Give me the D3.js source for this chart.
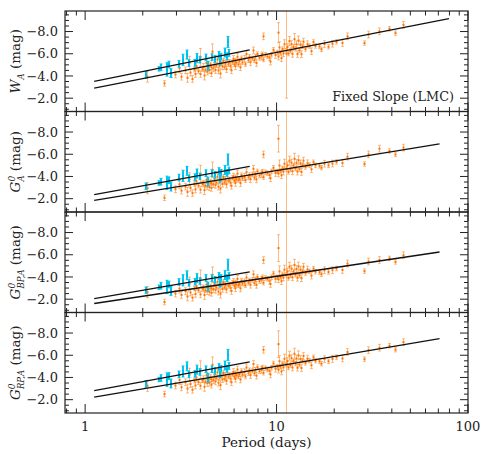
<!DOCTYPE html>
<html>
<head>
<meta charset="utf-8">
<script src="https://cdn.jsdelivr.net/npm/d3@7"></script>
<style>
  body { margin: 0; background: #fff; }
  svg { display: block; font-family: "DejaVu Serif", serif; }
</style>
</head>
<body>
<svg id="chart" width="490" height="454"></svg>
<script>
// ── data ──
const bands = ['W', 'G', 'BP', 'RP'];

// [period (d), W_A, G0_A, G0_BP,A, G0_RP,A, error (one value, or one per band)]
const orangeStars = [
  [2.11,-3.94,-2.94,-2.63,-3.25,.5],[2.57,-3.33,-2.08,-1.74,-2.50,.25],[2.95,-4.13,-2.85,-2.50,-3.27,.3],
  [3.09,-4.70,-3.30,-2.95,-3.78,.4],[3.16,-3.93,-2.73,-2.38,-3.11,.3],[3.31,-4.50,-3.09,-2.73,-3.57,.3],
  [3.39,-3.83,-2.61,-2.25,-3.00,.4],[3.47,-5.17,-3.74,-3.38,-4.23,.6],[3.55,-4.30,-2.97,-2.60,-3.41,.3],
  [3.63,-3.73,-2.50,-2.13,-2.89,.3],[3.72,-4.57,-3.33,-2.95,-3.71,.2],[3.76,-4.18,-2.84,-2.47,-3.28,.3],
  [3.80,-4.90,-3.56,-3.18,-3.99,.3],[3.89,-4.43,-3.18,-2.81,-3.57,.2],[3.98,-4.17,-2.81,-2.43,-3.25,.3],
  [4.00,-5.67,-4.21,-3.83,-4.70,.8],[4.07,-4.60,-3.34,-2.96,-3.73,.2],[4.12,-4.82,-3.35,-2.97,-3.85,.3],
  [4.17,-4.04,-2.77,-2.38,-3.16,.4],[4.22,-4.55,-3.18,-2.80,-3.63,.2],[4.27,-5.17,-3.70,-3.31,-4.19,.3],
  [4.32,-4.39,-3.11,-2.72,-3.50,.3],[4.37,-4.80,-3.42,-3.03,-3.87,.2],[4.42,-4.52,-3.04,-2.65,-3.53,.3],
  [4.47,-5.04,-3.55,-3.16,-4.05,.2],[4.52,-4.25,-2.97,-2.57,-3.36,.3],[4.57,-4.77,-3.38,-2.99,-3.83,.2],
  [4.62,-6.19,-4.60,-4.20,-5.14,.7],[4.68,-4.70,-3.31,-2.91,-3.76,.3],[4.73,-5.02,-3.72,-3.32,-4.12,.2],
  [4.79,-4.54,-3.24,-2.84,-3.64,.3],[4.84,-4.95,-3.45,-3.05,-3.95,.2],[4.90,-5.47,-3.97,-3.56,-4.46,.3],
  [4.96,-4.49,-3.08,-2.68,-3.53,.3],[5.01,-4.91,-3.59,-3.19,-3.99,.2],[5.07,-4.22,-2.91,-2.50,-3.31,.4],
  [5.13,-5.14,-3.72,-3.31,-4.17,.2],[5.19,-4.86,-3.34,-2.93,-3.84,.3],[5.25,-5.37,-3.95,-3.54,-4.40,.2],
  [5.31,-4.79,-3.46,-3.05,-3.87,.2],[5.37,-5.11,-3.68,-3.27,-4.13,.3],[5.43,-4.62,-3.29,-2.88,-3.70,.3],
  [5.50,-5.74,-4.21,-3.79,-4.71,.4],[5.56,-5.06,-3.62,-3.20,-4.08,.2],[5.62,-5.28,-3.74,-3.32,-4.24,.2],
  [5.69,-4.89,-3.45,-3.03,-3.90,.3],[5.75,-4.51,-3.16,-2.74,-3.57,.3],[5.82,-5.23,-3.88,-3.46,-4.28,.2],
  [5.89,-5.54,-3.99,-3.57,-4.50,.3],[5.96,-5.06,-3.61,-3.18,-4.06,.2],[6.03,-4.88,-3.42,-2.99,-3.88,.3],
  [6.10,-5.39,-3.93,-3.51,-4.39,.2],[6.17,-5.21,-3.75,-3.32,-4.21,.2],[6.24,-5.73,-4.26,-3.83,-4.72,.3],
  [6.31,-5.04,-3.68,-3.25,-4.09,.2],[6.38,-5.36,-3.79,-3.36,-4.30,.2],[6.46,-4.78,-3.40,-2.97,-3.82,.3],
  [6.53,-5.59,-4.12,-3.68,-4.58,.2],[6.61,-5.21,-3.83,-3.40,-4.24,.2],[6.76,-5.55,-3.96,-3.52,-4.47,.3],
  [6.84,-5.06,-3.67,-3.24,-4.09,.2],[6.92,-5.98,-4.39,-3.95,-4.90,.3],[7.08,-5.41,-3.92,-3.47,-4.38,.2],
  [7.16,-5.73,-4.13,-3.69,-4.65,.2],[7.24,-5.25,-3.75,-3.30,-4.21,.3],[7.41,-5.58,-4.17,-3.73,-4.59,.2],
  [7.50,-6.30,-4.69,-4.24,-5.21,.3],[7.59,-5.41,-3.90,-3.45,-4.37,.2],[7.76,-5.75,-4.23,-3.78,-4.70,.2],
  [7.85,-5.17,-3.74,-3.29,-4.16,.3],[7.94,-5.98,-4.46,-4.00,-4.93,.2],[8.13,-5.62,-4.09,-3.63,-4.56,.2],
  [8.32,-5.75,-4.21,-3.75,-4.69,.3],[8.41,-5.97,-4.43,-3.97,-4.90,.2],[8.51,-5.48,-3.94,-3.48,-4.42,.2],
  [8.71,-5.92,-4.37,-3.91,-4.84,.2],[8.91,-5.75,-4.30,-3.83,-4.72,.2],[8.45,-7.57,-5.98,-5.52,-6.49,.3],
  [9.12,-5.68,-4.13,-3.66,-4.60,.3],[9.23,-5.30,-3.84,-3.37,-4.27,.3],[9.33,-5.92,-4.46,-3.98,-4.88,.2],
  [9.55,-6.35,-4.78,-4.31,-5.26,.2],[9.77,-5.89,-4.31,-3.83,-4.79,.3],[10.0,-6.12,-4.44,-3.96,-4.97,.2],
  [10.12,-7.90,-7.40,-6.60,-7.00,[.9,1.2,1.2,1.2]],
  [10.23,-5.75,-4.27,-3.79,-4.70,.3],[10.35,-6.57,-4.98,-4.50,-5.46,.5],[10.47,-6.09,-4.50,-4.01,-4.98,.2],
  [10.59,-5.60,-4.11,-3.62,-4.54,.3],[10.72,-6.42,-4.72,-4.24,-5.26,.2],[10.84,-6.04,-4.44,-3.95,-4.92,.3],
  [10.96,-6.86,-5.15,-4.66,-5.69,.4],
  [11.14,-6.00,-4.67,-4.18,-5.16,[4.0,6,6,6]],
  [11.22,-6.29,-4.68,-4.19,-5.17,.2],[11.35,-6.61,-5.00,-4.50,-5.48,.3],[11.48,-6.02,-4.41,-3.91,-4.90,.2],
  [11.61,-7.14,-5.42,-4.93,-5.96,.4],[11.75,-6.26,-4.64,-4.14,-5.12,.2],[11.89,-6.87,-5.25,-4.75,-5.74,.3],
  [12.02,-5.99,-4.47,-3.97,-4.90,.3],[12.16,-6.61,-4.98,-4.48,-5.47,.2],[12.30,-7.32,-5.59,-5.09,-6.13,.5],
  [12.45,-6.44,-4.71,-4.20,-5.25,.2],[12.59,-6.86,-5.22,-4.72,-5.71,.3],[12.74,-5.97,-4.44,-3.93,-4.88,.3],
  [12.88,-7.19,-5.45,-4.94,-5.99,.4],[13.03,-6.31,-4.66,-4.15,-5.16,.2],[13.18,-6.83,-5.18,-4.67,-5.67,.3],
  [13.49,-5.96,-4.41,-3.89,-4.85,.3],[13.65,-6.68,-5.02,-4.51,-5.51,.2],[13.80,-7.09,-5.43,-4.92,-5.93,.3],
  [14.13,-6.43,-4.86,-4.35,-5.31,.2],[14.45,-6.86,-5.19,-4.67,-5.69,.3],[14.79,-6.69,-5.02,-4.50,-5.52,.2],
  [15.14,-6.23,-4.65,-4.12,-5.10,.3],[15.49,-7.06,-5.28,-4.75,-5.82,.2],[15.85,-6.70,-5.00,-4.47,-5.50,.2],
  [16.60,-6.66,-4.96,-4.43,-5.46,.2],[16.98,-6.40,-4.79,-4.25,-5.24,.2],[17.78,-6.87,-5.15,-4.60,-5.65,.3],
  [18.62,-6.63,-5.00,-4.45,-5.46,.2],[19.50,-6.90,-5.16,-4.61,-5.67,.3],[20.42,-7.07,-5.31,-4.76,-5.83,.2],
  [21.88,-6.97,-5.20,-4.63,-5.71,.3],[23.44,-7.57,-5.78,-5.21,-6.30,.3],[28.51,-6.96,-5.12,-4.53,-5.65,.2],
  [29.99,-7.73,-5.99,-5.39,-6.46,.3],[34.20,-8.02,-6.50,-5.53,-6.68,.3],[38.55,-8.25,-6.29,-5.67,-6.86,.2],
  [41.50,-7.86,-5.98,-5.35,-6.50,.2],[45.71,-8.60,-6.60,-5.96,-7.18,.3]
];

const cyanStars = [
  [2.07,-4.10,-3.11,-2.80,-3.42,.3],[2.43,-4.64,-3.41,-3.08,-3.82,.2],[2.48,-4.78,-3.53,-3.21,-3.95,.3],
  [2.69,-4.59,-3.43,-3.10,-3.81,.6],[2.75,-5.03,-3.66,-3.32,-4.13,.3],[2.82,-4.26,-3.09,-2.75,-3.46,.4],
  [3.09,-5.10,-3.90,-3.55,-4.28,.3],[3.24,-5.46,-4.06,-3.70,-4.54,.5],[3.39,-5.93,-4.51,-4.15,-5.00,.4],
  [3.47,-5.17,-3.84,-3.48,-4.28,.3],[3.76,-5.18,-3.94,-3.57,-4.33,.3],[3.85,-5.62,-4.27,-3.89,-4.71,.4],
  [3.98,-5.47,-4.01,-3.63,-4.50,.3],[4.41,-4.92,-3.54,-3.14,-3.98,.4],[4.27,-5.67,-4.30,-3.91,-4.74,.3],
  [4.62,-5.69,-4.30,-3.90,-4.74,.3],[4.79,-5.54,-4.14,-3.74,-4.59,.3],[5.01,-5.91,-4.49,-4.09,-4.94,.3],
  [5.13,-5.74,-4.32,-3.91,-4.77,.3],[5.37,-6.11,-4.58,-4.17,-5.08,.4],[5.56,-7.06,-5.52,-5.10,-6.03,.5],
  [5.50,-5.76,-4.32,-3.90,-4.78,.3],[5.05,-5.31,-3.79,-3.39,-4.29,.3],[5.62,-6.08,-4.54,-4.12,-5.04,.3]
];

// fixed-slope relations per band: [intercept, slope] in mag vs log10(P)
const fitLong = [[-2.74, -3.38], [-1.72, -2.82], [-1.49, -2.57], [-2.10, -2.92]];
const fitShort = [[-3.35, -3.50], [-2.21, -3.15], [-1.91, -2.97], [-2.66, -3.18]];
const fitLongEnd = [79.5, 71, 71, 71];
const fitShortEnd = 7.24;
const fitStart = 1.115;

const xTickLabels = [1, 10, 100];
const yTickLabels = [-8, -6, -4, -2];

// ── layout ──
const left = 65, right = 468, top0 = 11, panelH = 100.5;
const svg = d3.select('#chart');
const x = d3.scaleLog().domain([0.785, 100]).range([left, right]);
const xTicks = x.ticks();
const yTicks = d3.range(-9.5, -0.9, 0.5);

const labelParts = [
  [['W', 'it'], ['A', 'sub'], [' (mag)', '']],
  [['G', 'it'], ['0', 'sup'], ['A', 'sub'], [' (mag)', '']],
  [['G', 'it'], ['0', 'sup'], ['BP,A', 'sub'], [' (mag)', '']],
  [['G', 'it'], ['0', 'sup'], ['RP,A', 'sub'], [' (mag)', '']],
];

bands.forEach((band, i) => {
  const top = top0 + i * panelH, bottom = top + panelH;
  const y = d3.scaleLinear().domain([-0.8, -9.85]).range([bottom, top]);

  svg.append('clipPath').attr('id', 'clip' + i)
    .append('rect').attr('x', left).attr('y', top).attr('width', right - left).attr('height', panelH);
  const plot = svg.append('g').attr('clip-path', `url(#clip${i})`);

  drawStars(plot, orangeStars, i, y, '#ff8f2e', '#ff7400', 1, 0.6);
  drawStars(plot, cyanStars, i, y, '#00c8f0', '#00b8e8', 2, 1);

  // fit lines
  const line = d3.line().x(d => x(d[0])).y(d => y(d[1]));
  const rel = (f, p) => f[0] + f[1] * Math.log10(p);
  plot.append('path')
    .attr('d', line([[fitStart, rel(fitLong[i], fitStart)], [fitLongEnd[i], rel(fitLong[i], fitLongEnd[i])]]))
    .attr('stroke', '#111').attr('stroke-width', 1.3).attr('fill', 'none');
  plot.append('path')
    .attr('d', line([[fitStart, rel(fitShort[i], fitStart)], [fitShortEnd, rel(fitShort[i], fitShortEnd)]]))
    .attr('stroke', '#111').attr('stroke-width', 1.3).attr('fill', 'none');

  // frame
  svg.append('rect').attr('x', left).attr('y', top).attr('width', right - left).attr('height', panelH)
    .attr('fill', 'none').attr('stroke', '#222').attr('stroke-width', 1.2);

  // x ticks (top and bottom, inward)
  const ax = svg.append('g').attr('stroke', '#222').attr('stroke-width', 1);
  xTicks.forEach(t => {
    const len = xTickLabels.includes(t) ? 9 : 4.5;
    ax.append('line').attr('x1', x(t)).attr('x2', x(t)).attr('y1', top).attr('y2', top + len);
    ax.append('line').attr('x1', x(t)).attr('x2', x(t)).attr('y1', bottom).attr('y2', bottom - len);
  });
  // y ticks (left and right, inward)
  yTicks.forEach(t => {
    const len = yTickLabels.includes(t) ? 8 : 4;
    ax.append('line').attr('x1', left).attr('x2', left + len).attr('y1', y(t)).attr('y2', y(t));
    ax.append('line').attr('x1', right).attr('x2', right - len).attr('y1', y(t)).attr('y2', y(t));
  });

  yTickLabels.forEach(t => {
    svg.append('text').attr('x', 58).attr('y', y(t)).attr('dy', '0.36em')
      .attr('text-anchor', 'end').attr('font-size', 13).attr('fill', '#222')
      .text('\u2212' + Math.abs(t).toFixed(1));
  });

  // y label
  const lab = svg.append('text')
    .attr('transform', `translate(20,${(top + bottom) / 2}) rotate(-90)`)
    .attr('text-anchor', 'middle').attr('font-size', 13.5).attr('fill', '#222');
  let shift = 0, supW = 0;
  labelParts[i].forEach(([txt, kind]) => {
    const ts = lab.append('tspan').text(txt);
    if (kind === 'it') ts.attr('font-style', 'italic');
    if (kind === 'sup') {
      ts.attr('font-style', 'italic').attr('font-size', 9).attr('dy', -5);
      shift = -5; supW = 5.7;
    }
    if (kind === 'sub') {
      ts.attr('font-style', 'italic').attr('font-size', 8.5).attr('dy', 4 - shift);
      if (supW) ts.attr('dx', -supW);
      shift = 4;
    }
    if (kind === '') ts.attr('dy', -shift);
  });
});

// x tick labels under the bottom panel
xTickLabels.forEach(t => {
  svg.append('text').attr('x', x(t)).attr('y', 431).attr('text-anchor', 'middle')
    .attr('font-size', 13).attr('fill', '#222').text(t);
});

svg.append('text').attr('x', (left + right) / 2).attr('y', 447).attr('text-anchor', 'middle')
  .attr('font-size', 13.5).attr('fill', '#222').text('Period (days)');

svg.append('text').attr('x', 454).attr('y', 101).attr('text-anchor', 'end')
  .attr('font-size', 12.8).attr('fill', '#222').text('Fixed Slope (LMC)');

function drawStars(g, rows, i, y, barColor, dotColor, width, opacity) {
  const grp = g.append('g');
  rows.forEach(r => {
    // snap to pixel centre so thin bars stay crisp
    const px = Math.round(x(r[0])) + (width % 2 ? 0.5 : 0), m = r[1 + i];
    const e = Array.isArray(r[5]) ? r[5][i] : r[5];
    const y1 = y(m - e), y2 = y(m + e);
    grp.append('line').attr('x1', px).attr('x2', px).attr('y1', y1).attr('y2', y2)
      .attr('stroke', barColor).attr('stroke-width', width).attr('opacity', opacity);
    [y1, y2].forEach(yy => grp.append('line')
      .attr('x1', px - 1.5).attr('x2', px + 1.5).attr('y1', yy).attr('y2', yy)
      .attr('stroke', barColor).attr('stroke-width', 1).attr('opacity', opacity));
    grp.append('rect').attr('x', px - 1).attr('y', y(m) - 1).attr('width', 2).attr('height', 2)
      .attr('fill', dotColor);
  });
}
</script>
</body>
</html>
